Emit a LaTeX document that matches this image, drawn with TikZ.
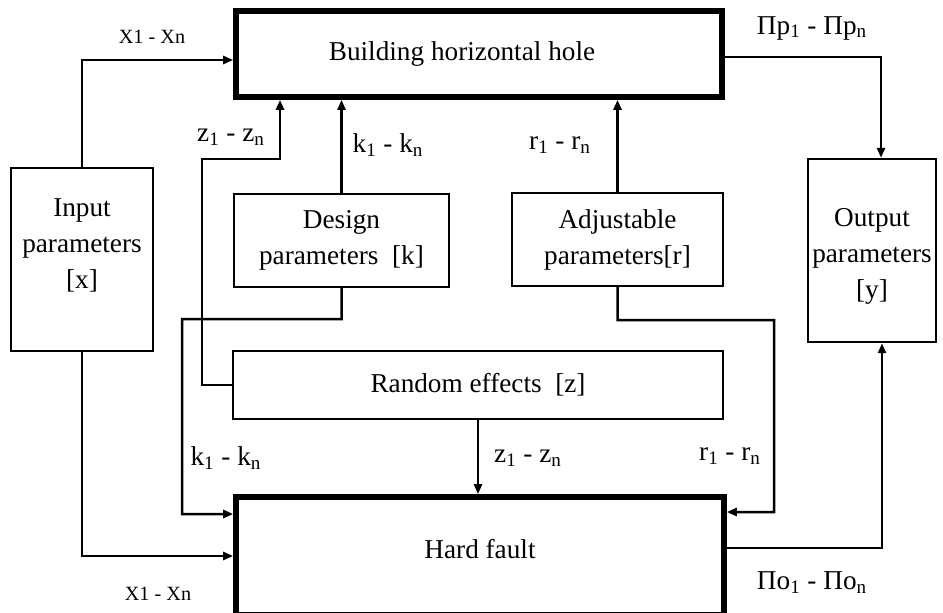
\documentclass[tikz,border=0pt]{standalone}
\usepackage{fontspec}
\setmainfont{Liberation Serif}
\usetikzlibrary{arrows.meta, positioning, calc}

\begin{document}
\begin{tikzpicture}[
        x=0.02cm, y=-0.02cm,
        box/.style={
            draw,
            rectangle,
            line width=0.05cm,
            align=center,
            inner sep=0pt,
            font=\fontsize{15.5pt}{20.5pt}\selectfont
        },
        mainbox/.style={
            box,
            line width=0.115cm
        },
        boxtext/.style={
            align=center,
            inner sep=0pt,
            font=\fontsize{15.5pt}{20.5pt}\selectfont
        },
        arrow/.style={-{Triangle[length=0.2cm, width=0.16cm]}, line width=0.05cm},
        lbl/.style={inner sep=0pt, font=\fontsize{15.5pt}{18pt}\selectfont},
        smalllbl/.style={inner sep=0pt, font=\fontsize{11.5pt}{14pt}\selectfont}
    ]
    \useasboundingbox (0,0) rectangle (943,612);

    % Main process boxes
    \node[mainbox, minimum width=9.72cm, minimum height=1.72cm,
        label={[boxtext, xshift=-0.34cm]center:Building horizontal hole}] (build) at (479,54) {};
    \node[mainbox, minimum width=9.76cm, minimum height=2.36cm,
        label={[boxtext, yshift=0.14cm]center:Hard fault}] (fault) at (480,556) {};

    % Input and output boxes
    \node[box, minimum width=2.84cm, minimum height=3.66cm,
        label={[boxtext, yshift=0.29cm]center:Input\\parameters\\{[x]}}] (input) at (82,259.5) {};
    \node[box, minimum width=2.56cm, minimum height=3.66cm,
        label={[boxtext, yshift=-0.12cm]center:Output\\parameters\\{[y]}}] (output) at (872,250.5) {};

    % Parameter boxes
    \node[box, minimum width=4.3cm, minimum height=1.86cm] (design) at (341.5,240.5) {Design\\parameters~ [k]};
    \node[box, minimum width=4.22cm, minimum height=1.86cm] (adjust) at (617.5,239.5) {Adjustable\\parameters[r]};

    % Random effects
    \node[box, minimum width=9.8cm, minimum height=1.36cm] (random) at (478,385) {Random effects~ [z]};

    % Arrows into building
    \draw[arrow] (input.north) |- ([yshift=-0.12cm]build.west);
    \draw[arrow] (design.north) -- (design.north |- build.south);
    \draw[arrow] (adjust.north) -- (adjust.north |- build.south);
    \coordinate (zturn) at (280,159);
    \draw[arrow] (random.west) -- ++(-30,0) |- (zturn) -- (zturn |- build.south);

    % Building -> output
    \draw[arrow] ([yshift=-0.06cm]build.east) -| ([xshift=0.18cm]output.north);

    % Arrows into hard fault
    \draw[arrow] (input.south) |- (fault.west);
    \draw[arrow] (design.south) -- ++(0,31) -| (182,514) -- ([yshift=0.84cm]fault.west);
    \draw[arrow] (adjust.south) -- ++(0,33) -| (774,512) -- ([yshift=0.88cm]fault.east);
    \draw[arrow] (random.south) -- (random.south |- fault.north);

    % Hard fault -> output
    \draw[arrow] ([yshift=0.16cm]fault.east) -| ([xshift=0.2cm]output.south);

    % Labels
    \node[smalllbl] (xtop) at (152,37) {X1 - Xn};
    \node[lbl] (ztop) at (231,137) {z\textsubscript{1} - z\textsubscript{n}};
    \node[lbl] (ktop) at (388,145) {k\textsubscript{1} - k\textsubscript{n}};
    \node[lbl] (rtop) at (560,145) {r\textsubscript{1} - r\textsubscript{n}};
    \node[lbl] (ptop) at (812,28) {Πp\textsubscript{1} - Πp\textsubscript{n}};
    \node[lbl] (kbot) at (226,458) {k\textsubscript{1} - k\textsubscript{n}};
    \node[lbl] (zbot) at (528,458) {z\textsubscript{1} - z\textsubscript{n}};
    \node[lbl] (rbot) at (730,456) {r\textsubscript{1} - r\textsubscript{n}};
    \node[smalllbl] (xbot) at (158,594) {X1 - Xn};
    \node[lbl] (obot) at (812,583) {Πo\textsubscript{1} - Πo\textsubscript{n}};

\end{tikzpicture}
\end{document}
